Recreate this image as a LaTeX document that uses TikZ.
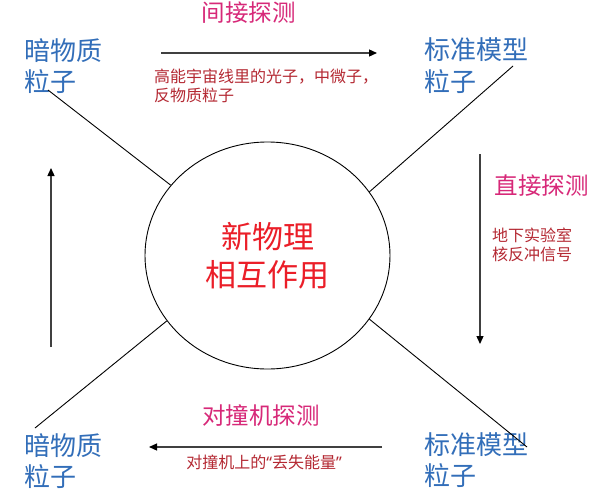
\documentclass[tikz,border=0pt]{standalone}
\usepackage{fontspec}
\setmainfont{Noto Sans CJK SC}
\newfontfamily\latinq{Noto Sans}
\usetikzlibrary{arrows.meta,shapes.geometric}
\definecolor{lblue}{RGB}{50,110,185}
\definecolor{mag}{RGB}{215,40,120}
\definecolor{cred}{RGB}{235,30,40}
\definecolor{dred}{RGB}{180,40,50}
\begin{document}
\begin{tikzpicture}[x=1pt,y=-1pt,
  particle/.style={text=lblue, font=\fontsize{26}{31.5}\selectfont, align=left, inner sep=0pt, anchor=west},
  method/.style={text=mag, font=\fontsize{23.5}{28}\selectfont, inner sep=0pt},
  detail/.style={text=dred, font=\fontsize{16}{19}\selectfont, align=left, inner sep=0pt},
  probe/.style={draw=black!75, line width=1.3pt, -{Triangle[width=7pt,length=8pt,black]}},
  link/.style={draw=black, line width=0.9pt}]
\useasboundingbox[fill=white] (0,0) rectangle (608,496);

% central interaction
\node[ellipse, draw=black, line width=0.9pt, minimum width=245pt, minimum height=227pt, inner sep=0pt,
      text=cred, align=center, font=\fontsize{31}{38}\selectfont] (circ) at (267.5,255.5) {新物理\\相互作用};

% particle labels
\node[particle] (dmTL) at (24,66) {暗物质\\粒子};
\node[particle] (smTR) at (424,65.5) {标准模型\\粒子};
\node[particle] (dmBL) at (24,461) {暗物质\\粒子};
\node[particle] (smBR) at (424,460) {标准模型\\粒子};

% method labels
\node[method] (indir) at (248.5,13) {间接探测};
\node[method] (dir) at (541.5,186) {直接探测};
\node[method] (coll) at (261,416) {对撞机探测};

% detail labels
\node[detail, anchor=west] (indirD) at (154,85.5) {高能宇宙线里的光子，中微子，\\反物质粒子};
\node[detail, anchor=west] (dirD) at (492,245) {地下实验室\\核反冲信号};
\node[detail] (collD) at (264,462) {对撞机上的{\latinq “}丢失能量{\latinq ”}};

% arrow ends
\coordinate (aTs) at (161,53);
\coordinate (aTe) at (377,53);
\coordinate (aRs) at (480,154);
\coordinate (aRe) at (480,344);
\coordinate (aBs) at (382,447);
\coordinate (aBe) at (149,447);
\coordinate (aLs) at (51,347);
\coordinate (aLe) at (51,168);
\draw[probe] (aTs) -- (aTe);
\draw[probe] (aRs) -- (aRe);
\draw[probe] (aBs) -- (aBe);
\draw[probe] (aLs) -- (aLe);

% links to the circle
\coordinate (lTL) at (48,90);
\coordinate (lTR) at (513,66);
\coordinate (lBL) at (35,428);
\coordinate (lBR) at (527,447);
\draw[link] (lTL) -- (circ.144);
\draw[link] (lTR) -- (circ.32.7);
\draw[link] (lBL) -- (circ.213);
\draw[link] (lBR) -- (circ.-32.7);
\end{tikzpicture}
\end{document}
